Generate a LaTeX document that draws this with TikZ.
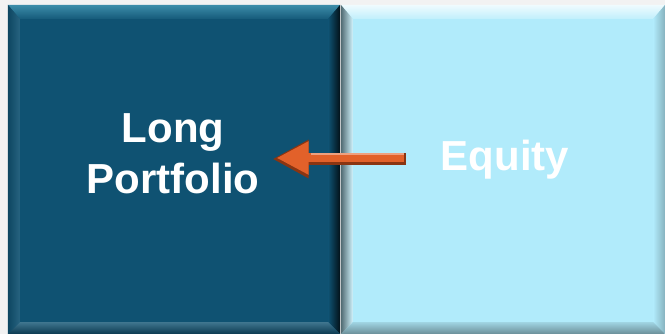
\documentclass[tikz,border=0pt]{standalone}
\usepackage{fontspec}
\setmainfont{Liberation Sans}
\usetikzlibrary{arrows.meta}

\definecolor{pagegray}{HTML}{F2F2F2}
\definecolor{boxdark}{HTML}{0F5272}
\definecolor{darkrim}{HTML}{3C8DAA}
\definecolor{boxlight}{HTML}{B1EBFB}
\definecolor{arroworange}{HTML}{E2612A}
\definecolor{arrowshade}{HTML}{8A3512}

\tikzset{%
  every box/.style={
    rectangle,
    inner sep=0pt,
    minimum height=329pt
  },
  box dark/.style={fill=boxdark, minimum width=332pt},
  box light/.style={fill=boxlight, minimum width=324pt},
  box label/.style={
    text=white,
    font=\fontsize{42}{51}\selectfont\bfseries,
    align=center,
    inner sep=0pt
  },
}

% bevel round a box: name, top, right, bottom, left shadings
\newcommand{\bevelbox}[5]{%
  \shade[#2] (#1.north west) -- (#1.north east)
    -- ([shift={(-12pt,-14pt)}]#1.north east)
    -- ([shift={(12pt,-14pt)}]#1.north west) -- cycle;
  \shade[#3] (#1.north east) -- (#1.south east)
    -- ([shift={(-12pt,12pt)}]#1.south east)
    -- ([shift={(-12pt,-14pt)}]#1.north east) -- cycle;
  \shade[#4] (#1.south west) -- (#1.south east)
    -- ([shift={(-12pt,12pt)}]#1.south east)
    -- ([shift={(12pt,12pt)}]#1.south west) -- cycle;
  \shade[#5] (#1.north west) -- (#1.south west)
    -- ([shift={(12pt,12pt)}]#1.south west)
    -- ([shift={(12pt,-14pt)}]#1.north west) -- cycle;
}

\begin{document}
\begin{tikzpicture}[x=1pt, y=1pt]

\fill [pagegray] (0,0) rectangle (665,334);
\useasboundingbox (0,0) rectangle (665,334);

% BOXES
\node [every box, box dark] (longbox) at (174,164.5) {};
\node [every box, box light] (equitybox) at (503,164.5) {};

\bevelbox{longbox}
  {top color=darkrim, bottom color=boxdark!85!darkrim}
  {left color=boxdark, right color=black!80!boxdark}
  {top color=boxdark!80!white, bottom color=boxdark!70!black}
  {left color=boxdark!85!black, right color=boxdark!90!white}

\bevelbox{equitybox}
  {top color=white!80!boxlight, bottom color=boxlight!80!white}
  {left color=boxlight, right color=boxlight!75!black}
  {top color=boxlight!90!black, bottom color=boxlight!60!black}
  {left color=boxlight!45!black, right color=boxlight!60!white}

% LABELS
\node [box label] (portfolio) at (173,180) {Long\\Portfolio};
\node [box label, anchor=base] (equity) at (505,163) {Equity};

% ARROW
\coordinate (tail) at (406,175);
\draw [arrowshade, line width=12pt,
  -{Triangle[width=36pt, length=36pt]}]
  (tail) -- ([xshift=13pt]tail -| portfolio.east);
\draw [arroworange, line width=9pt, shorten <=2pt,
  -{Triangle[width=31pt, length=32pt]}]
  ([yshift=1pt]tail) -- ([yshift=1pt, xshift=17pt]tail -| portfolio.east);
\draw [arroworange!60!white, line width=1.5pt, shorten <=2pt, shorten >=34pt]
  ([yshift=5pt]tail) -- ([yshift=5pt, xshift=17pt]tail -| portfolio.east);

\end{tikzpicture}
\end{document}
